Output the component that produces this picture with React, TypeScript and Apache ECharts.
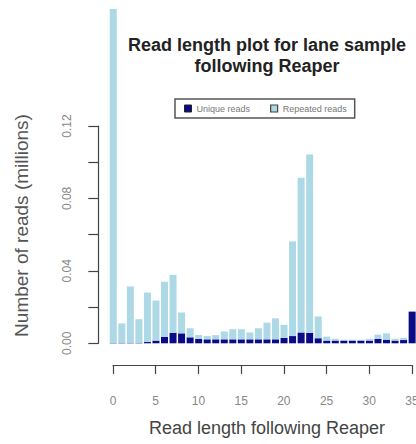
import React, { useEffect, useRef } from "react";
import * as echarts from "echarts";

const categories: string[] = [
  "0","1","2","3","4","5","6","7","8","9","10","11","12","13","14","15","16","17",
  "18","19","20","21","22","23","24","25","26","27","28","29","30","31","32","33","34","35",
];

// millions of reads
const uniqueReads: number[] = [
  0.0002, 0.0003, 0.0003, 0.0003, 0.0007, 0.0015, 0.0035, 0.0058, 0.0055, 0.0033,
  0.0024, 0.0022, 0.0022, 0.0022, 0.0022, 0.0022, 0.0022, 0.0022, 0.0022, 0.0022,
  0.003, 0.004, 0.006, 0.0058, 0.0028, 0.0015, 0.0015, 0.0015, 0.0015, 0.0015,
  0.0015, 0.0025, 0.002, 0.0015, 0.0018, 0.0175,
];

const repeatedReads: number[] = [
  0.1844, 0.0107, 0.0311, 0.013, 0.0273, 0.0221, 0.0305, 0.032, 0.0115, 0.005,
  0.0022, 0.0018, 0.0023, 0.0043, 0.0056, 0.0056, 0.0038, 0.0061, 0.0092, 0.0116,
  0.0072, 0.0523, 0.0854, 0.0985, 0.012, 0.0022, 0.001, 0.0005, 0.0005, 0.0005,
  0.001, 0.0023, 0.0035, 0.001, 0.0012, 0.0,
];

const yMin = 0;
const yMax = 0.12;
const yInterval = 0.02;
const xTickMin = 0;
const xTickMax = 35;
const xTickInterval = 5;

const titleText = "Read length plot for lane sample\nfollowing Reaper";
const xTitle = "Read length following Reaper";
const yTitle = "Number of reads (millions)";

const NAVY = "#0b0b86";
const LIGHT = "#ADD8E6";
const AXIS = "#444";
const LABEL = "#888";

export default function App() {
  const ref = useRef<HTMLDivElement>(null);
  useEffect(() => {
    if (!ref.current) return;
    const chart = echarts.init(ref.current, undefined, { renderer: "svg" });
    const option: any = {
      animation: false,
      backgroundColor: "#fff",
      textStyle: { fontFamily: "Liberation Sans, Arial, sans-serif" },
      title: {
        text: titleText,
        left: 267,
        top: 34,
        padding: 0,
        textAlign: "center",
        textStyle: {
          fontSize: 18,
          fontWeight: "bold",
          lineHeight: 21,
          color: "#222",
          fontFamily: "Liberation Sans, Arial, sans-serif",
        },
      },
      legend: {
        left: 175,
        top: 99,
        orient: "horizontal",
        borderColor: "#555",
        borderWidth: 1.5,
        padding: [5, 8, 5, 9],
        itemWidth: 7,
        itemHeight: 7,
        itemGap: 20,
        icon: "rect",
        textStyle: { fontSize: 9, color: "#777" },
        data: [
          { name: "Unique reads", itemStyle: { color: NAVY, borderColor: "#222", borderWidth: 1 } },
          { name: "Repeated reads", itemStyle: { color: LIGHT, borderColor: "#444", borderWidth: 1.2 } },
        ],
      },
      grid: [
        { left: 109, top: 126, width: 307.4, height: 217.3, outerBoundsMode: "none", containLabel: false },
        { left: 113, top: 355, width: 299, height: 10, outerBoundsMode: "none", containLabel: false },
      ],
      xAxis: [
        {
          type: "category",
          gridIndex: 0,
          data: categories,
          show: false,
        },
        {
          type: "value",
          gridIndex: 1,
          min: xTickMin,
          max: xTickMax,
          interval: xTickInterval,
          axisLine: { show: true, lineStyle: { color: AXIS, width: 1.2 } },
          axisTick: { show: true, length: 9, lineStyle: { color: AXIS, width: 1.2 } },
          axisLabel: { margin: 30, fontSize: 12, color: LABEL },
          splitLine: { show: false },
        },
      ],
      yAxis: [
        {
          type: "value",
          gridIndex: 0,
          min: yMin,
          max: yMax,
          interval: yInterval,
          offset: 10.7,
          axisLine: { show: true, lineStyle: { color: AXIS, width: 1.2 } },
          axisTick: { show: true, length: 10, lineStyle: { color: AXIS, width: 1.2 } },
          axisLabel: {
            rotate: 90,
            margin: 25,
            fontSize: 12,
            color: LABEL,
            formatter: (v: number) =>
              Math.round(v / yInterval) % 2 === 0 ? v.toFixed(2) : "",
          },
          splitLine: { show: false },
        },
        { type: "value", gridIndex: 1, show: false },
      ],
      graphic: [
        {
          type: "text",
          x: 21.7,
          y: 225.5,
          rotation: Math.PI / 2,
          style: {
            text: yTitle,
            fontSize: 19,
            fill: "#555",
            align: "center",
            verticalAlign: "middle",
            fontFamily: "Liberation Sans, Arial, sans-serif",
          },
        },
        {
          type: "text",
          x: 267,
          y: 428,
          style: {
            text: xTitle,
            fontSize: 18,
            fill: "#444",
            align: "center",
            verticalAlign: "middle",
            fontFamily: "Liberation Sans, Arial, sans-serif",
          },
        },
      ],
      series: [
        {
          name: "Unique reads",
          type: "bar",
          stack: "total",
          xAxisIndex: 0,
          yAxisIndex: 0,
          barWidth: 7,
          clip: false,
          itemStyle: { color: NAVY },
          data: uniqueReads,
        },
        {
          name: "Repeated reads",
          type: "bar",
          stack: "total",
          xAxisIndex: 0,
          yAxisIndex: 0,
          barWidth: 7,
          clip: false,
          itemStyle: { color: LIGHT },
          data: repeatedReads,
        },
      ],
    };
    chart.setOption(option);
    return () => chart.dispose();
  }, []);
  return (
    <div
      ref={ref}
      style={{ position: "fixed", left: 0, top: 0, width: 416, height: 444, background: "#fff" }}
    />
  );
}
